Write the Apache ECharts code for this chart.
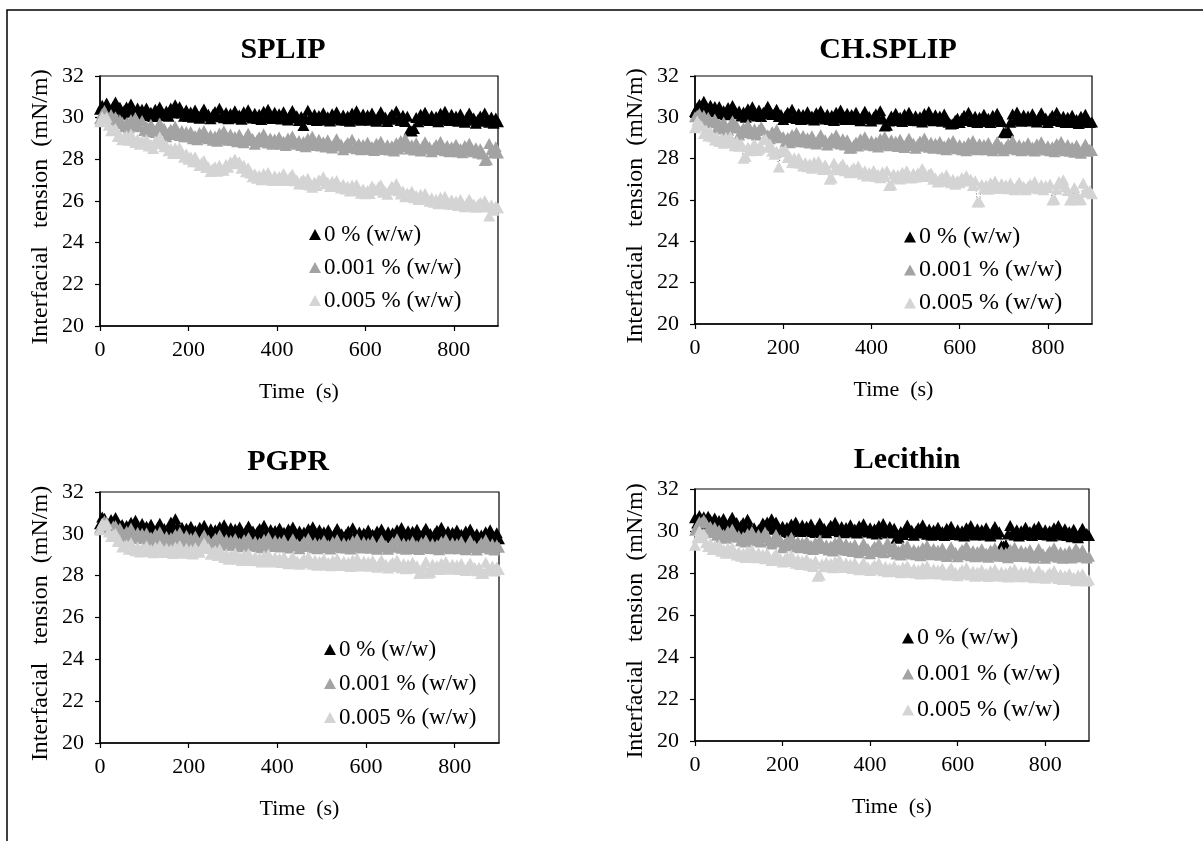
<!DOCTYPE html>
<html>
<head>
<meta charset="utf-8">
<script src="https://cdn.jsdelivr.net/npm/echarts@6/dist/echarts.min.js"></script>
<style>
html,body{margin:0;padding:0;background:#fff;}
#chart{width:1203px;height:841px;}
</style>
</head>
<body>
<div id="chart"></div>
<script>
// ---------- DATA ----------
const panelTitles = ['SPLIP', 'CH.SPLIP', 'PGPR', 'Lecithin'];
const seriesNames = ['0 % (w/w)', '0.001 % (w/w)', '0.005 % (w/w)'];
const xTicks = [0, 200, 400, 600, 800];
const yTicks = [20, 22, 24, 26, 28, 30, 32];

const time = [0,5,10,15,20,25,30,35,40,45,50,55,60,65,70,75,80,85,90,95,100,105,110,115,120,125,130,135,140,145,150,155,160,165,170,175,180,185,190,195,200,205,210,215,220,225,230,235,240,245,250,255,260,265,270,275,280,285,290,295,300,305,310,315,320,325,330,335,340,345,350,355,360,365,370,375,380,385,390,395,400,405,410,415,420,425,430,435,440,445,450,455,460,465,470,475,480,485,490,495,500,505,510,515,520,525,530,535,540,545,550,555,560,565,570,575,580,585,590,595,600,605,610,615,620,625,630,635,640,645,650,655,660,665,670,675,680,685,690,695,700,705,710,715,720,725,730,735,740,745,750,755,760,765,770,775,780,785,790,795,800,805,810,815,820,825,830,835,840,845,850,855,860,865,870,875,880,885,890,895,900];

// SPLIP
const splip0 = [30.40,30.60,30.35,30.70,30.45,30.30,30.55,30.75,30.40,30.50,30.16,30.36,30.51,30.26,30.66,30.31,30.21,30.46,30.16,30.41,30.21,30.46,30.11,30.26,30.06,30.41,30.16,30.51,30.26,30.11,30.32,30.07,30.47,30.22,30.62,30.32,30.52,30.22,30.07,30.37,30.07,30.27,30.02,30.37,30.12,29.97,30.22,30.42,30.07,30.17,29.95,30.15,30.30,30.05,30.45,30.10,30.00,30.25,29.95,30.20,30.08,30.33,29.98,30.13,29.93,30.28,30.03,30.38,30.13,29.98,30.21,29.96,30.16,29.91,30.31,30.01,30.41,30.11,29.96,30.26,29.99,30.19,29.94,30.29,30.04,29.89,30.14,30.34,29.99,30.09,29.86,30.06,29.62,29.96,30.36,30.01,29.91,30.16,29.86,30.11,29.99,30.24,29.89,30.04,29.84,30.19,29.94,30.29,30.04,29.89,30.13,29.88,30.08,29.83,30.23,29.93,30.33,30.03,29.88,30.18,29.93,30.13,29.88,30.23,29.98,29.83,30.08,30.28,29.93,30.03,29.82,30.02,30.17,29.92,30.32,29.97,29.87,30.12,29.82,30.07,29.42,29.36,29.48,30.01,29.81,30.16,29.91,30.26,30.01,29.86,30.11,29.86,30.06,29.81,30.21,29.91,30.31,30.01,29.86,30.16,29.88,30.08,29.83,30.18,29.93,29.78,30.03,30.23,29.88,29.98,29.73,29.93,30.08,29.83,30.23,29.88,29.78,30.03,29.73,29.98,29.80];
const splip001 = [29.95,30.20,30.35,30.00,29.90,30.15,29.80,30.05,29.72,29.90,29.81,29.56,29.76,29.51,29.91,29.61,30.01,29.71,29.56,29.86,29.39,29.59,29.34,29.69,29.44,29.29,29.54,29.74,29.39,29.49,29.09,29.29,29.44,29.19,29.59,29.24,29.14,29.39,29.09,29.34,29.09,29.34,28.99,29.14,28.94,29.29,29.04,29.39,29.14,28.99,29.17,28.92,29.12,28.87,29.27,28.97,29.37,29.07,28.92,29.22,28.90,29.10,28.85,29.20,28.95,28.80,29.05,29.25,28.90,29.00,28.73,28.93,29.08,28.83,29.23,28.88,28.78,29.03,28.73,28.98,28.82,29.07,28.72,28.87,28.67,29.02,28.77,29.12,28.87,28.72,28.91,28.66,28.86,28.61,29.01,28.71,29.11,28.81,28.66,28.96,28.64,28.84,28.59,28.94,28.69,28.54,28.79,28.99,28.64,28.74,28.46,28.66,28.81,28.56,28.96,28.61,28.51,28.76,28.46,28.71,28.57,28.82,28.47,28.62,28.42,28.77,28.52,28.87,28.62,28.47,28.70,28.45,28.65,28.40,28.80,28.50,28.90,28.60,29.00,28.75,28.50,28.70,28.45,28.80,28.55,28.40,28.65,28.85,28.50,28.60,28.36,28.56,28.71,28.46,28.86,28.51,28.41,28.66,28.36,28.61,28.47,28.72,28.37,28.52,28.32,28.67,28.42,28.77,28.52,28.37,28.56,28.31,28.51,28.26,27.95,27.98,28.76,28.46,28.31,28.61,28.30];
const splip005 = [29.80,30.04,29.91,30.02,29.64,29.37,29.42,29.48,29.10,29.14,28.94,29.06,29.15,28.92,29.22,28.91,28.81,28.98,28.72,28.90,28.79,28.95,28.64,28.72,28.52,28.88,28.75,29.08,28.90,28.61,28.66,28.41,28.52,28.28,28.56,28.28,28.57,28.28,28.10,28.27,28.00,28.12,27.88,28.12,27.89,27.71,27.85,27.95,27.61,27.63,27.42,27.56,27.65,27.43,27.72,27.49,27.48,27.76,27.62,27.88,27.79,28.02,27.81,27.88,27.57,27.72,27.40,27.60,27.34,27.16,27.31,27.09,27.24,27.02,27.32,27.07,27.37,27.12,26.98,27.21,27.00,27.18,27.01,27.32,27.14,26.99,27.16,27.28,26.97,27.01,26.82,26.95,27.03,26.80,27.09,26.77,26.66,26.91,26.74,27.02,26.99,27.16,26.83,26.90,26.70,26.95,26.73,26.99,26.77,26.63,26.81,26.58,26.71,26.48,26.77,26.50,26.79,26.52,26.37,26.58,26.35,26.51,26.36,26.72,26.60,26.52,26.68,26.78,26.42,26.46,26.32,26.54,26.72,26.56,26.84,26.49,26.34,26.48,26.21,26.39,26.29,26.47,26.16,26.26,26.07,26.33,26.10,26.36,26.13,25.99,26.16,25.94,26.09,25.87,26.18,25.92,26.23,25.97,25.84,26.06,25.85,26.00,25.79,26.07,25.86,25.73,25.92,26.08,25.79,25.86,25.70,25.84,25.94,25.72,26.02,25.72,25.28,25.82,25.56,25.75,25.68];

// CH.SPLIP
const chsplip0 = [30.28,30.48,30.63,30.38,30.78,30.43,30.33,30.58,30.28,30.53,30.27,30.52,30.17,30.32,30.12,30.47,30.22,30.57,30.32,30.17,30.31,30.06,30.26,30.01,30.41,30.11,30.51,30.21,30.06,30.36,30.04,30.24,30.19,30.54,30.29,30.14,30.19,30.39,30.04,30.14,29.89,30.09,30.24,29.99,30.39,30.04,29.94,30.19,29.89,30.14,30.02,30.27,29.92,30.07,29.87,30.22,29.97,30.32,30.07,29.92,30.15,29.90,30.10,29.85,30.25,29.95,30.35,30.05,29.90,30.20,29.94,30.14,29.89,30.24,29.99,29.84,30.09,30.29,29.94,30.04,29.82,30.02,30.17,29.92,30.32,29.97,29.58,29.62,29.82,30.07,29.95,30.20,29.85,30.00,29.80,30.15,29.90,30.25,30.00,29.85,30.08,29.83,30.03,29.78,30.18,29.88,30.28,29.98,29.83,30.13,29.86,30.06,29.81,30.16,29.91,29.76,29.68,29.70,29.86,29.96,29.75,29.95,30.10,29.85,30.25,29.90,29.80,30.05,29.75,30.00,29.90,30.15,29.80,29.95,29.75,30.10,29.85,30.20,29.95,29.80,29.28,29.26,29.34,29.76,30.16,29.86,30.26,29.96,29.81,30.11,29.87,30.07,29.82,30.17,29.92,29.77,30.02,30.22,29.87,29.97,29.75,29.95,30.10,29.85,30.25,29.90,29.80,30.05,29.75,30.00,29.85,30.10,29.75,29.90,29.70,30.05,29.80,30.15,29.90,29.75,29.78];
const chsplip001 = [30.03,30.10,30.18,29.95,30.10,29.83,30.00,29.80,29.74,29.92,29.48,29.68,29.43,29.78,29.53,29.38,29.63,29.83,29.48,29.58,29.15,29.35,29.50,29.25,29.65,29.30,29.20,29.45,29.15,29.40,29.55,29.36,29.01,29.16,28.96,29.31,29.06,29.41,29.16,29.01,29.07,28.82,29.02,28.77,29.17,28.87,29.27,28.97,28.82,29.12,28.81,29.01,28.76,29.11,28.86,28.71,28.96,29.16,28.81,28.91,28.66,28.86,29.01,28.76,29.16,28.81,28.71,28.96,28.66,28.91,28.50,28.52,28.66,28.81,28.61,28.96,28.71,29.06,28.81,28.66,28.87,28.62,28.82,28.57,28.97,28.67,29.07,28.77,28.62,28.92,28.64,28.84,28.59,28.94,28.69,28.54,28.79,28.99,28.64,28.74,28.50,28.70,28.85,28.60,29.00,28.65,28.55,28.80,28.50,28.75,28.58,28.83,28.48,28.63,28.43,28.78,28.53,28.88,28.63,28.48,28.68,28.43,28.63,28.38,28.78,28.48,28.88,28.58,28.43,28.73,28.48,28.68,28.43,28.78,28.53,28.38,28.63,28.83,28.48,28.58,28.38,28.58,28.73,28.48,28.88,28.53,28.43,28.68,28.38,28.63,28.52,28.77,28.42,28.57,28.37,28.72,28.47,28.82,28.57,28.42,28.63,28.38,28.58,28.33,28.73,28.43,28.83,28.53,28.38,28.68,28.36,28.56,28.31,28.66,28.41,28.26,28.51,28.71,28.36,28.46,28.40];
const chsplip005 = [29.49,29.82,29.66,29.58,29.22,29.40,29.10,29.30,29.06,28.90,29.06,28.83,28.97,28.74,29.04,28.77,29.07,28.78,28.63,28.84,28.60,28.71,28.02,28.10,28.56,28.38,28.57,28.70,28.40,28.46,28.57,28.93,28.95,28.55,28.72,28.36,28.21,28.36,27.60,28.37,28.34,28.44,28.06,28.08,27.82,28.05,27.80,28.03,27.78,27.64,27.82,27.61,27.76,27.54,27.84,27.58,27.88,27.62,27.48,27.70,27.50,27.00,27.06,27.79,27.60,27.46,27.62,27.74,27.42,27.48,27.32,27.46,27.56,27.34,27.64,27.34,27.24,27.42,27.16,27.33,27.24,27.43,27.14,27.25,27.08,27.35,27.14,27.41,26.70,26.74,27.26,27.06,27.22,27.02,27.34,27.10,27.42,27.18,27.06,27.30,27.10,27.31,27.16,27.52,27.34,27.14,27.24,27.32,27.00,27.06,26.87,27.02,27.12,26.91,27.22,26.92,26.83,27.01,26.76,26.94,26.84,27.09,26.96,27.18,26.92,27.00,26.70,26.93,25.90,25.92,26.76,26.56,26.72,26.52,26.84,26.60,26.92,26.68,26.56,26.80,26.58,26.74,26.54,26.82,26.62,26.50,26.70,26.86,26.58,26.66,26.50,26.66,26.78,26.58,26.90,26.62,26.54,26.74,26.50,26.70,26.60,26.78,26.00,26.04,26.52,26.90,26.78,26.98,26.64,26.46,26.00,26.04,26.60,26.28,26.00,26.02,26.82,26.42,26.38,26.46,26.30];

// PGPR
const pgpr0 = [30.48,30.80,30.75,30.53,30.33,30.68,30.43,30.78,30.53,30.38,30.45,30.20,30.40,30.15,30.55,30.25,30.65,30.35,30.20,30.50,30.16,30.36,30.11,30.46,30.21,30.06,30.31,30.51,30.16,30.26,30.02,30.22,30.57,30.32,30.72,30.37,30.07,30.32,30.02,30.27,30.11,30.36,30.01,30.16,29.96,30.31,30.06,30.41,30.16,30.01,30.24,29.99,30.19,29.94,30.34,30.04,30.44,30.14,29.99,30.29,30.03,30.23,29.98,30.33,30.08,29.93,30.18,30.38,30.03,30.13,29.91,30.11,30.26,30.01,30.41,30.06,29.96,30.21,29.91,30.16,30.03,30.28,29.93,30.08,29.88,30.23,29.98,30.33,30.08,29.93,30.14,29.89,30.09,29.84,30.24,29.94,30.34,30.04,29.89,30.19,29.90,30.10,29.85,30.20,29.95,29.80,30.05,30.25,29.90,30.00,29.79,29.99,30.14,29.89,30.29,29.94,29.84,30.09,29.79,30.04,29.93,30.18,29.83,29.98,29.78,30.13,29.88,30.23,29.98,29.83,30.10,29.85,30.05,29.80,30.20,29.90,30.30,30.00,29.85,30.15,29.92,30.12,29.87,30.22,29.97,29.82,30.07,30.27,29.92,30.02,29.82,30.02,30.17,29.92,30.32,29.97,29.87,30.12,29.82,30.07,29.93,30.18,29.83,29.98,29.78,30.13,29.88,30.23,29.98,29.83,30.00,29.75,29.95,29.70,30.10,29.80,30.20,29.90,29.75,30.05,29.76];
const pgpr001 = [30.28,30.50,30.62,30.55,30.33,30.18,30.38,30.40,30.20,30.28,29.78,29.98,30.13,29.88,30.28,29.93,29.83,30.08,29.78,30.03,29.80,30.05,29.70,29.85,29.65,30.00,29.75,30.10,29.85,29.70,29.88,29.63,29.83,29.58,29.98,29.68,30.08,29.78,29.63,29.93,29.60,29.80,29.55,29.90,29.65,29.50,29.75,29.95,29.60,29.70,29.44,29.64,29.79,29.54,29.94,29.59,29.49,29.74,29.44,29.69,29.53,29.78,29.43,29.58,29.38,29.73,29.48,29.83,29.58,29.43,29.64,29.39,29.59,29.34,29.74,29.44,29.84,29.54,29.39,29.69,29.42,29.62,29.37,29.72,29.47,29.32,29.57,29.77,29.42,29.52,29.29,29.49,29.64,29.39,29.79,29.44,29.34,29.59,29.29,29.54,29.43,29.68,29.33,29.48,29.28,29.63,29.38,29.73,29.48,29.33,29.57,29.32,29.52,29.27,29.67,29.37,29.77,29.47,29.32,29.62,29.36,29.56,29.31,29.66,29.41,29.26,29.51,29.71,29.36,29.46,29.26,29.46,29.61,29.36,29.76,29.41,29.31,29.56,29.26,29.51,29.40,29.65,29.30,29.45,29.25,29.60,29.35,29.70,29.45,29.30,29.54,29.29,29.49,29.24,29.64,29.34,29.74,29.44,29.29,29.59,29.34,29.54,29.29,29.64,29.39,29.24,29.49,29.69,29.34,29.44,29.23,29.43,29.58,29.33,29.73,29.38,29.28,29.53,29.23,29.48,29.36];
const pgpr005 = [30.20,30.51,30.41,30.49,30.09,29.87,29.97,30.03,29.65,29.63,29.37,29.43,29.48,29.26,29.57,29.28,29.19,29.38,29.13,29.32,29.24,29.43,29.15,29.26,29.10,29.37,29.17,29.44,29.24,29.11,29.31,29.11,29.26,29.06,29.37,29.13,29.44,29.20,29.07,29.31,29.10,29.25,29.04,29.34,29.19,29.12,29.37,29.56,29.30,29.30,29.02,29.13,29.20,28.97,29.27,28.97,28.87,29.05,28.79,28.98,28.89,29.08,28.79,28.90,28.73,29.00,28.79,29.06,28.85,28.73,28.92,28.71,28.86,28.65,28.96,28.72,29.03,28.78,28.65,28.89,28.68,28.83,28.63,28.90,28.69,28.57,28.76,28.91,28.63,28.70,28.54,28.69,28.81,28.60,28.92,28.63,28.55,28.74,28.50,28.69,28.60,28.80,28.51,28.63,28.47,28.74,28.54,28.82,28.61,28.49,28.69,28.49,28.64,28.44,28.76,28.51,28.83,28.59,28.46,28.70,28.50,28.66,28.45,28.73,28.52,28.40,28.59,28.75,28.46,28.54,28.37,28.53,28.64,28.44,28.75,28.47,28.38,28.58,28.33,28.53,28.44,28.64,28.36,28.48,28.10,28.14,28.40,28.68,28.12,28.16,28.54,28.34,28.49,28.29,28.61,28.36,28.68,28.44,28.31,28.55,28.35,28.51,28.30,28.58,28.37,28.25,28.44,28.60,28.32,28.40,28.24,28.40,28.10,28.12,28.64,28.35,28.26,28.46,28.22,28.42,28.30];

// Lecithin
const lec0 = [30.63,30.38,30.74,30.33,30.68,30.43,30.70,30.53,30.38,30.62,30.30,30.50,30.25,30.60,30.35,30.20,30.45,30.65,30.30,30.40,30.06,30.26,30.41,30.16,30.56,30.21,29.96,30.16,29.86,30.06,30.13,30.38,30.28,30.43,30.23,30.58,30.08,30.43,30.18,30.03,30.23,29.98,30.18,29.93,30.33,30.03,30.43,30.13,29.98,30.28,30.03,30.23,29.98,30.33,30.08,29.93,30.18,30.38,30.03,30.13,29.92,30.12,30.27,30.02,30.42,30.07,29.97,30.22,29.92,30.17,30.05,30.30,29.95,30.10,29.90,30.25,30.00,30.35,30.10,29.95,30.16,29.91,30.11,29.86,30.26,29.96,30.36,30.06,29.91,30.21,29.93,30.13,29.66,29.70,29.98,29.83,30.08,30.28,29.93,30.03,29.80,30.00,30.15,29.90,30.30,29.95,29.85,30.10,29.80,30.05,29.93,30.18,29.83,29.98,29.78,30.13,29.88,30.23,29.98,29.83,30.06,29.81,30.01,29.76,30.16,29.86,30.26,29.96,29.81,30.11,29.86,30.06,29.81,30.16,29.91,29.76,30.01,30.21,29.86,29.96,29.30,29.28,29.34,29.86,30.26,29.91,29.81,30.06,29.76,30.01,29.93,30.18,29.83,29.98,29.78,30.13,29.88,30.23,29.98,29.83,30.06,29.81,30.01,29.76,30.16,29.86,30.26,29.96,29.81,30.11,29.78,29.98,29.73,30.08,29.83,29.68,29.93,30.13,29.78,29.88,29.78];
const lec001 = [30.03,30.23,30.45,30.40,30.53,30.38,30.08,30.23,29.93,30.18,29.80,30.05,29.70,29.85,29.65,30.00,29.75,30.10,29.85,29.70,29.78,29.53,29.73,29.48,29.88,29.58,29.98,29.68,29.53,29.83,29.48,29.68,29.95,29.78,29.53,29.38,29.63,29.83,29.48,29.58,29.20,29.40,29.55,29.30,29.70,29.35,29.25,29.50,29.20,29.45,29.27,29.52,29.17,29.32,29.12,29.47,29.22,29.57,29.32,29.17,29.35,29.10,29.30,29.05,29.45,29.15,29.55,29.25,29.10,29.40,29.07,29.27,29.02,29.37,29.12,28.97,29.22,29.42,29.07,29.17,28.92,29.12,29.27,29.02,29.42,29.07,28.97,29.22,29.45,29.17,29.01,29.26,28.91,29.06,28.86,29.21,28.96,29.31,29.06,28.91,29.12,28.87,29.07,28.82,29.22,28.92,29.32,29.02,28.87,29.17,28.89,29.09,28.84,29.19,28.94,28.79,29.04,29.24,28.89,28.99,28.77,28.97,29.12,28.87,29.27,28.92,28.82,29.07,28.77,29.02,28.90,29.15,28.80,28.95,28.75,29.10,28.85,29.20,28.95,28.80,29.03,28.78,28.98,28.73,29.13,28.83,29.23,28.93,28.78,29.08,28.82,29.02,28.77,29.12,28.87,28.72,28.97,29.17,28.82,28.92,28.70,28.90,29.05,28.80,29.20,28.85,28.75,29.00,28.70,28.95,28.81,29.06,28.71,28.86,29.18,29.01,28.76,29.11,28.86,28.71,28.80];
const lec005 = [29.32,29.68,30.00,29.70,29.87,29.44,29.26,29.41,29.12,29.28,29.16,29.34,29.03,29.13,28.94,29.20,28.97,29.23,29.00,28.86,29.01,28.80,28.95,28.74,29.05,28.80,29.11,28.86,28.73,28.96,28.75,28.89,28.68,28.94,28.73,28.59,28.78,28.92,28.63,28.69,28.52,28.66,28.77,28.55,28.86,28.56,28.47,28.65,28.40,28.58,28.49,28.67,28.37,28.48,28.31,28.58,27.84,27.90,28.44,28.31,28.51,28.30,28.46,28.25,28.56,28.32,28.63,28.38,28.26,28.49,28.27,28.42,28.22,28.49,28.28,28.16,28.35,28.50,28.22,28.29,28.12,28.27,28.38,28.18,28.49,28.20,28.11,28.31,28.06,28.25,28.16,28.35,28.07,28.18,28.01,28.29,28.08,28.35,28.15,28.02,28.21,28.00,28.16,27.95,28.27,28.02,28.34,28.09,27.97,28.20,28.00,28.16,27.95,28.23,28.02,27.90,28.09,28.25,27.96,28.04,27.87,28.03,28.15,27.94,28.26,27.98,27.90,28.09,27.85,28.05,27.96,28.16,27.88,27.99,27.83,28.11,27.91,28.18,27.98,27.86,28.06,27.86,28.01,27.81,28.12,27.88,28.19,27.95,27.82,28.06,27.86,28.02,27.82,28.09,27.89,27.77,27.97,28.12,27.84,27.92,27.75,27.90,28.01,27.81,28.12,27.83,27.74,27.94,27.69,27.88,27.79,27.98,27.69,27.80,27.63,27.90,27.69,27.96,27.75,27.62,27.68];

const panelData = [
  [splip0, splip001, splip005],
  [chsplip0, chsplip001, chsplip005],
  [pgpr0, pgpr001, pgpr005],
  [lec0, lec001, lec005]
];

// ---------- STYLE / LAYOUT ----------
const FONT = '"Liberation Serif", "Times New Roman", serif';
const colors = ['#000000', '#a3a3a3', '#d4d4d4'];
const grids = [
  {left: 100, top: 76, width: 398, height: 250},
  {left: 695, top: 76, width: 397, height: 248},
  {left: 100, top: 492, width: 399, height: 251},
  {left: 695, top: 489, width: 394, height: 252}
];
const titlePos = [[283, 50], [888, 50], [288, 462], [907, 460]];
const legendPos = [
  {left: 309, top: 223, gap: 10, fs: 23},
  {left: 904, top: 225, gap: 9, fs: 24},
  {left: 324, top: 638, gap: 11, fs: 23},
  {left: 902, top: 626, gap: 12, fs: 24}
];

const option = {
  animation: false,
  backgroundColor: '#ffffff',
  grid: grids.map(g => Object.assign({show: true, borderColor: '#000', borderWidth: 1.2, backgroundColor: 'transparent'}, g)),
  xAxis: grids.map((g, i) => ({
    type: 'value', gridIndex: i, min: 0, max: 900, interval: 200,
    name: 'Time  (s)', nameLocation: 'middle', nameGap: 55,
    nameTextStyle: {fontFamily: FONT, fontSize: 22, color: '#000'},
    axisLine: {show: true, lineStyle: {color: '#000', width: 1.5}},
    axisTick: {show: true, inside: false, length: 5, lineStyle: {color: '#000', width: 1.2}},
    axisLabel: {show: true, margin: 13, fontFamily: FONT, fontSize: 22, color: '#000', showMaxLabel: false,
      formatter: v => (xTicks.indexOf(v) >= 0 ? String(v) : '')},
    splitLine: {show: false}
  })),
  yAxis: grids.map((g, i) => ({
    type: 'value', gridIndex: i, min: 20, max: 32, interval: 2,
    name: 'Interfacial   tension  (mN/m)  ', nameLocation: 'middle', nameGap: 47,
    nameTextStyle: {fontFamily: FONT, fontSize: 24, color: '#000'},
    axisLine: {show: true, lineStyle: {color: '#000', width: 1.5}},
    axisTick: {show: true, inside: false, length: 5, lineStyle: {color: '#000', width: 1.2}},
    axisLabel: {show: true, margin: 16, fontFamily: FONT, fontSize: 22, color: '#000',
      formatter: v => (yTicks.indexOf(v) >= 0 ? String(v) : '')},
    splitLine: {show: false}
  })),
  legend: legendPos.map(l => ({
    data: seriesNames, orient: 'vertical', left: l.left, top: l.top, itemGap: l.gap,
    icon: 'triangle', itemWidth: 12, itemHeight: 11, selectedMode: false, padding: 0,
    textStyle: {fontFamily: FONT, fontSize: l.fs, color: '#000', padding: [0, 0, 0, -2]}
  })),
  graphic: [
    {type: 'polyline', silent: true, shape: {points: [[7, 841], [7, 10], [1203, 10]]},
      style: {stroke: '#000', lineWidth: 1.5, fill: null}}
  ].concat(panelTitles.map((t, i) => ({
    type: 'text', x: titlePos[i][0], y: titlePos[i][1], silent: true,
    style: {text: t, fontFamily: FONT, fontSize: 30, fontWeight: 'bold', fill: '#000', align: 'center', verticalAlign: 'middle'}
  }))),
  series: []
};

panelData.forEach((arrs, p) => {
  arrs.forEach((vals, k) => {
    option.series.push({
      type: 'line', name: seriesNames[k], xAxisIndex: p, yAxisIndex: p,
      data: time.map((t, i) => [t, vals[i]]),
      symbol: 'triangle', symbolSize: [12, 11], showSymbol: true,
      itemStyle: {color: colors[k], borderWidth: 0},
      lineStyle: {color: '#222', width: 0.7, type: [1, 2]},
      emphasis: {disabled: true}, silent: true, z: 2 + k
    });
  });
});

const chart = echarts.init(document.getElementById('chart'), null, {renderer: 'canvas'});
chart.setOption(option);
</script>
</body>
</html>
